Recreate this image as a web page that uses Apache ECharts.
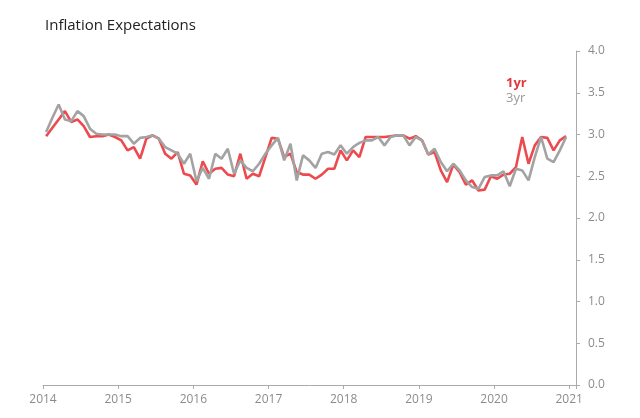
<!DOCTYPE html>
<html>
<head>
<meta charset="utf-8">
<script src="https://cdn.jsdelivr.net/npm/echarts@6/dist/echarts.min.js"></script>
<style>html,body{margin:0;padding:0;background:#fff}#c{width:640px;height:418px}</style>
</head>
<body>
<div id="c"></div>
<script>
var startYear = 2014;
var yearTicks = [2014, 2015, 2016, 2017, 2018, 2019, 2020, 2021];
var yTicks = [0, 0.5, 1, 1.5, 2, 2.5, 3, 3.5, 4];
var oneYear = [2.98,3.08,3.18,3.28,3.15,3.18,3.10,2.97,2.98,2.98,3.00,2.97,
2.93,2.81,2.85,2.71,2.95,2.99,2.95,2.77,2.71,2.79,2.53,2.51,
2.40,2.68,2.53,2.59,2.60,2.52,2.50,2.77,2.47,2.53,2.50,2.73,
2.96,2.95,2.73,2.77,2.55,2.52,2.52,2.47,2.52,2.59,2.59,2.81,
2.69,2.81,2.73,2.97,2.97,2.97,2.97,2.98,2.99,2.99,2.95,2.98,
2.93,2.76,2.79,2.57,2.43,2.64,2.55,2.40,2.45,2.33,2.34,2.50,
2.47,2.52,2.53,2.61,2.97,2.65,2.87,2.97,2.96,2.81,2.93,2.98];
var threeYear = [3.03,3.20,3.36,3.18,3.16,3.28,3.22,3.07,3.01,3.00,3.00,3.00,
2.98,2.98,2.89,2.96,2.97,2.99,2.95,2.85,2.81,2.77,2.65,2.77,
2.44,2.60,2.47,2.77,2.71,2.83,2.53,2.69,2.60,2.56,2.65,2.77,
2.87,2.96,2.69,2.89,2.45,2.75,2.69,2.60,2.77,2.79,2.76,2.87,
2.77,2.85,2.90,2.93,2.93,2.97,2.87,2.97,2.99,2.99,2.87,2.97,
2.93,2.76,2.83,2.67,2.56,2.65,2.57,2.45,2.37,2.35,2.49,2.51,
2.51,2.56,2.38,2.59,2.57,2.45,2.73,2.97,2.71,2.67,2.81,2.97];

// mid-month positions in fractional years
var months = oneYear.map(function (_, i) { return startYear + (i + 0.5) / 12; });
function pairs(vals) { return vals.map(function (v, i) { return [months[i], v]; }); }

var RED = '#ec4a4f', GRAY = '#a3a3a3';
var chart = echarts.init(document.getElementById('c'));
chart.setOption({
  animation: false,
  title: {
    text: 'Inflation Expectations', left: 40, top: 13,
    textStyle: { fontFamily: 'Open Sans', fontSize: 15, fontWeight: 'normal', color: '#222' }
  },
  legend: {
    orient: 'vertical', left: 496, top: 71, icon: 'none', itemWidth: 0, itemGap: 2,
    data: [
      { name: '1yr', textStyle: { color: '#e0383e', fontWeight: 'bold' } },
      { name: '3yr', textStyle: { color: '#9a9a9a' } }
    ],
    textStyle: { fontFamily: 'Open Sans', fontSize: 13 }
  },
  grid: { left: 43, right: 64, top: 51, bottom: 33 },
  xAxis: {
    type: 'value', min: yearTicks[0], max: 2021.09, interval: 1,
    axisLine: { lineStyle: { color: '#aaa' } },
    axisTick: { lineStyle: { color: '#aaa' }, length: 4 },
    splitLine: { show: false },
    axisLabel: {
      color: '#8c8c8c', fontFamily: 'Open Sans', fontSize: 12, margin: 9,
      formatter: function (v) { return yearTicks.indexOf(v) >= 0 ? String(v) : ''; }
    }
  },
  yAxis: {
    type: 'value', position: 'right', min: yTicks[0], max: yTicks[yTicks.length - 1], interval: 0.5,
    axisLine: { show: true, lineStyle: { color: '#aaa' } },
    axisTick: { show: true, lineStyle: { color: '#aaa' }, length: 4 },
    splitLine: { show: false },
    axisLabel: {
      color: '#8c8c8c', fontFamily: 'Open Sans', fontSize: 12, margin: 12,
      formatter: function (v) { return v.toFixed(1); }
    }
  },
  series: [
    { name: '1yr', type: 'line', data: pairs(oneYear), showSymbol: false, symbol: 'none',
      lineStyle: { color: RED, width: 2.6 }, itemStyle: { color: RED }, z: 2 },
    { name: '3yr', type: 'line', data: pairs(threeYear), showSymbol: false, symbol: 'none',
      lineStyle: { color: GRAY, width: 2.6 }, itemStyle: { color: GRAY }, z: 3 }
  ]
});
</script>
</body>
</html>
